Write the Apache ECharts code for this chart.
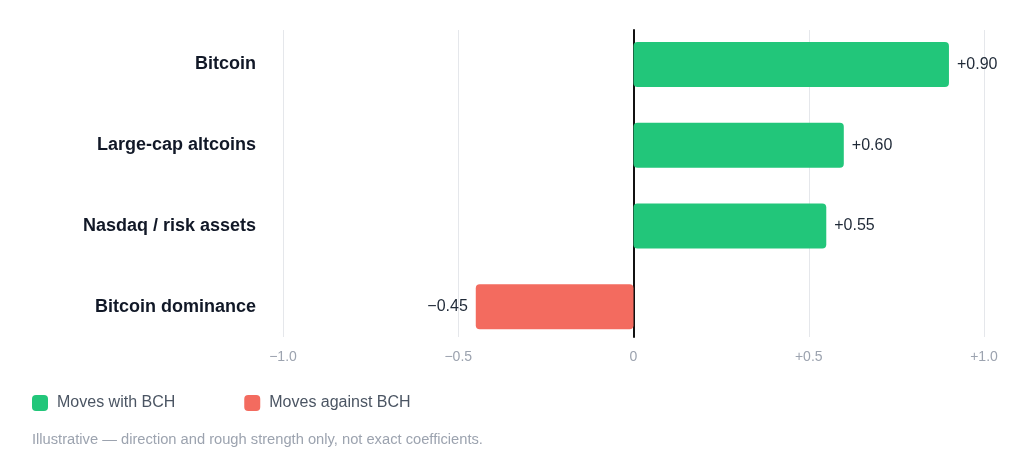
<!DOCTYPE html>
<html>
<head>
<meta charset="utf-8">
<script src="https://cdn.jsdelivr.net/npm/echarts@6/dist/echarts.min.js"></script>
<style>
  html, body { margin: 0; padding: 0; background: #fff; }
  #chart { width: 1024px; height: 472px; }
</style>
</head>
<body>
<div id="chart"></div>
<script>
var categories = ['Bitcoin', 'Large-cap altcoins', 'Nasdaq / risk assets', 'Bitcoin dominance'];
var values = [0.90, 0.60, 0.55, -0.45];
var xTicks = [-1.0, -0.5, 0, 0.5, 1.0];
var legendNames = ['Moves with BCH', 'Moves against BCH'];
var note = 'Illustrative \u2014 direction and rough strength only, not exact coefficients.';

var FONT = '"Liberation Sans", Arial, sans-serif';
var GREEN = '#22c67a';
var RED = '#f36b5f';

function signed(v, digits) {
    if (v === 0) return '0';
    var s = Math.abs(v).toFixed(digits);
    return (v > 0 ? '+' : '\u2212') + s;
}

// split values by sign so each series gets its own legend entry
var withData = values.map(function (v) { return v >= 0 ? v : null; });
var againstData = values.map(function (v) { return v < 0 ? v : null; });

var valueLabel = {
    show: true,
    fontFamily: FONT,
    fontSize: 16,
    color: '#1f2937',
    distance: 8,
    formatter: function (p) { return signed(p.value, 2); }
};

var option = {
    animation: false,
    textStyle: { fontFamily: FONT },
    grid: [
        { left: 283, right: 40, top: 30, height: 307 },
        { left: 283, right: 40, top: 24, height: 323 }
    ],
    xAxis: [{
        gridIndex: 0,
        type: 'value',
        min: -1,
        max: 1,
        interval: 0.5,
        axisLine: { show: false },
        axisTick: { show: false },
        splitLine: { lineStyle: { color: '#e5e7eb', width: 1 } },
        axisLabel: {
            margin: 13,
            fontSize: 14,
            color: '#9ca3af',
            fontFamily: FONT,
            formatter: function (v) {
                for (var i = 0; i < xTicks.length; i++) {
                    if (Math.abs(xTicks[i] - v) < 1e-9) return v === 0 ? '0' : signed(v, 1);
                }
                return '';
            }
        }
    }, {
        gridIndex: 1,
        type: 'value',
        min: -1,
        max: 1,
        show: false
    }],
    yAxis: [{
        gridIndex: 0,
        type: 'value',
        min: 0,
        max: 1,
        axisLine: { show: true, onZero: true, lineStyle: { color: '#111111', width: 2 } },
        axisTick: { show: false },
        axisLabel: { show: false },
        splitLine: { show: false }
    }, {
        gridIndex: 1,
        type: 'category',
        inverse: true,
        data: categories,
        axisLine: { show: false },
        axisTick: { show: false },
        axisLabel: {
            margin: 27,
            fontSize: 18,
            fontWeight: 'bold',
            color: '#111827',
            fontFamily: FONT
        }
    }],
    legend: {
        left: 32,
        top: 395,
        padding: 0,
        itemWidth: 16,
        itemHeight: 16,
        itemGap: 69,
        icon: 'roundRect',
        textStyle: { fontSize: 16, color: '#4b5563', fontFamily: FONT, padding: [0, 0, 0, 4] },
        data: legendNames
    },
    graphic: [{
        type: 'text',
        left: 32,
        top: 432,
        style: { text: note, fontSize: 14.7, fill: '#9ca3af', fontFamily: FONT }
    }],
    series: [{
        name: legendNames[0],
        type: 'bar',
        xAxisIndex: 1,
        yAxisIndex: 1,
        data: withData,
        barWidth: 45,
        barGap: '-100%',
        itemStyle: { color: GREEN, borderRadius: 4 },
        label: Object.assign({ position: 'right' }, valueLabel)
    }, {
        name: legendNames[1],
        type: 'bar',
        xAxisIndex: 1,
        yAxisIndex: 1,
        data: againstData,
        barWidth: 45,
        barGap: '-100%',
        itemStyle: { color: RED, borderRadius: 4 },
        label: Object.assign({ position: 'left' }, valueLabel)
    }]
};

var myChart = echarts.init(document.getElementById('chart'));
myChart.setOption(option);
</script>
</body>
</html>
